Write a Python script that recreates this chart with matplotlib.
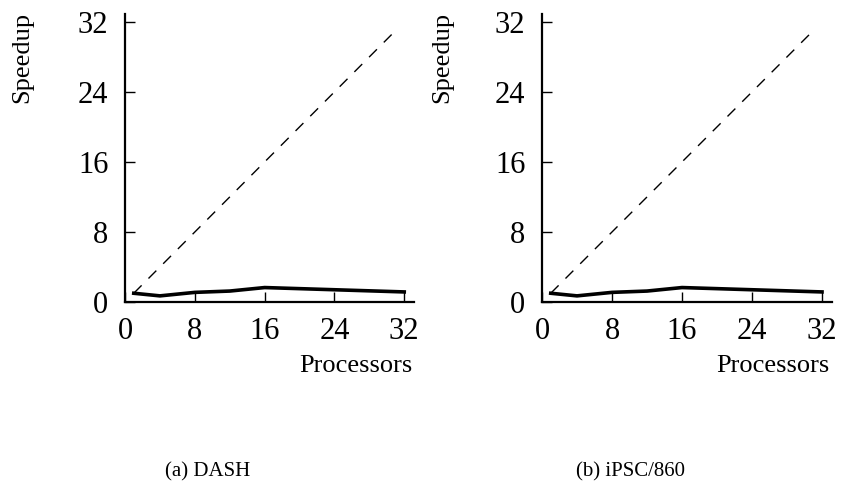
import matplotlib
matplotlib.use("Agg")
import matplotlib.pyplot as plt

processors = [1, 4, 8, 12, 16, 24, 32]
dash_speedup = [1.0, 0.7, 1.1, 1.25, 1.65, 1.4, 1.15]
ipsc_speedup = [1.0, 0.7, 1.1, 1.25, 1.65, 1.4, 1.15]
ideal_x = [1, 31]
ideal_y = [1, 31]
ticks = [0, 8, 16, 24, 32]
captions = ["(a) DASH", "(b) iPSC/860"]

plt.rcParams['font.family'] = ['Liberation Serif', 'DejaVu Serif']

fig = plt.figure(figsize=(8.42, 4.86), dpi=100)
positions = [[0.1485, 0.3786, 0.343, 0.5926], [0.6437, 0.3786, 0.344, 0.5926]]
series = [dash_speedup, ipsc_speedup]
cap_x = [0.246, 0.749]
ylab_x = [0.026, 0.525]

for i, pos in enumerate(positions):
    ax = fig.add_axes(pos)
    ax.plot(ideal_x, ideal_y, color='black', lw=1.0, dashes=(8, 7))
    ax.plot(processors, series[i], color='black', lw=2.6, solid_joinstyle='round')
    ax.set_xlim(0, 33.1)
    ax.set_ylim(0, 32.9)
    ax.set_xticks(ticks)
    ax.set_yticks(ticks)
    ax.tick_params(axis='x', direction='in', length=7, width=1, labelsize=22, pad=11)
    ax.tick_params(axis='y', direction='in', length=7, width=1, labelsize=22, pad=12)
    for s in ['top', 'right']:
        ax.spines[s].set_visible(False)
    for s in ['left', 'bottom']:
        ax.spines[s].set_linewidth(1.6)
    ax.patch.set_alpha(0)
    x0 = pos[0]
    fig.text(ylab_x[i], 0.975, 'Speedup', rotation=90, ha='center', va='top', fontsize=19)
    fig.text(x0 + pos[2] - 0.002, 0.247, 'Processors', ha='right', va='center', fontsize=19)
    fig.text(cap_x[i], 0.03, captions[i], ha='center', va='center', fontsize=15)

fig.savefig('out.png', dpi=100)
